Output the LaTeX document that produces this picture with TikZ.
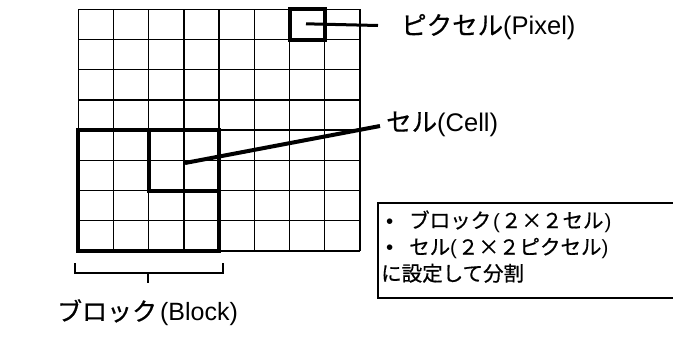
\documentclass[tikz,border=0pt]{standalone}
\usepackage{fontspec}
\setmainfont{Liberation Sans}
\newfontfamily\jp{Noto Sans CJK JP}[FakeBold=0.6]
\begin{document}
\begin{tikzpicture}[x=1pt,y=-1pt,
  gridline/.style={line width=1.3pt},
  thickbox/.style={line width=4pt},
  leader/.style={line width=3.2pt},
  lbl/.style={inner sep=0pt,font=\fontsize{25.5}{30}\selectfont},
  boxtxt/.style={inner sep=0pt,anchor=base west,font=\fontsize{20.5}{24}\selectfont}]
\useasboundingbox (0,0) rectangle (673,346);
\def\cw{35.21}\def\ch{30.21}
% grid
\foreach \i in {0,...,8} {
  \draw[gridline] (78.3+\i*\cw,9.3) -- (78.3+\i*\cw,251);
  \draw[gridline] (78.3,9.3+\i*\ch) -- (360,9.3+\i*\ch);
}
% boxes
\draw[thickbox] (78.3+6*\cw,9.3) rectangle (78.3+7*\cw,9.3+\ch);
\draw[thickbox] (78.3+2*\cw,9.3+4*\ch) rectangle (78.3+4*\cw,9.3+6*\ch);
\draw[thickbox] (78.3,9.3+4*\ch) rectangle (78.3+4*\cw,9.3+8*\ch);
\coordinate (pixc) at (306,23.8);
\coordinate (cellc) at (185,163);
% labels
\node[lbl,anchor=west] (pixlabel) at (401,27) {{\jp ピクセル}(Pixel)};
\node[lbl,anchor=west] (celllabel) at (386,124) {{\jp セル}(Cell)};
\coordinate (pixend) at (378,25.5);
\coordinate (cellend) at (380,126);
\draw[leader,line width=3pt] (pixc) -- (pixend);
\draw[leader,line width=4pt] (cellc) -- (cellend);
% brace
\coordinate (brL) at (75,263.3);
\coordinate (brR) at (223.3,263.3);
\coordinate (brM) at (148.3,272.7);
\coordinate (brT) at (148.3,282.7);
\draw[line width=2pt] (brL) -- (75,272.7) -- (223.3,272.7) -- (brR);
\draw[line width=2pt] (brM) -- (brT);
\node[lbl,font=\fontsize{25}{30}\selectfont] (blocklabel) at (147.5,312.5) {{\jp ブロック}\hspace{3pt}(Block)\hspace{3pt}};
% text box
\draw[line width=1.5pt] (674,203) -- (378,203) -- (378,298) -- (674,298);
\node[boxtxt] (b1) at (386,228) {•};
\node[boxtxt] (t1) at (409,228) {{\jp ブロック}\hspace{2pt}(\hspace{1pt}{\jp ２×２セル}\hspace{1pt})};
\node[boxtxt] (b2) at (386,254.5) {•};
\node[boxtxt] (t2) at (409,254.5) {{\jp セル}(\hspace{1pt}{\jp ２×２ピクセル})};
\node[boxtxt] (t3) at (381,281) {{\jp に設定して分割}};
\end{tikzpicture}
\end{document}
